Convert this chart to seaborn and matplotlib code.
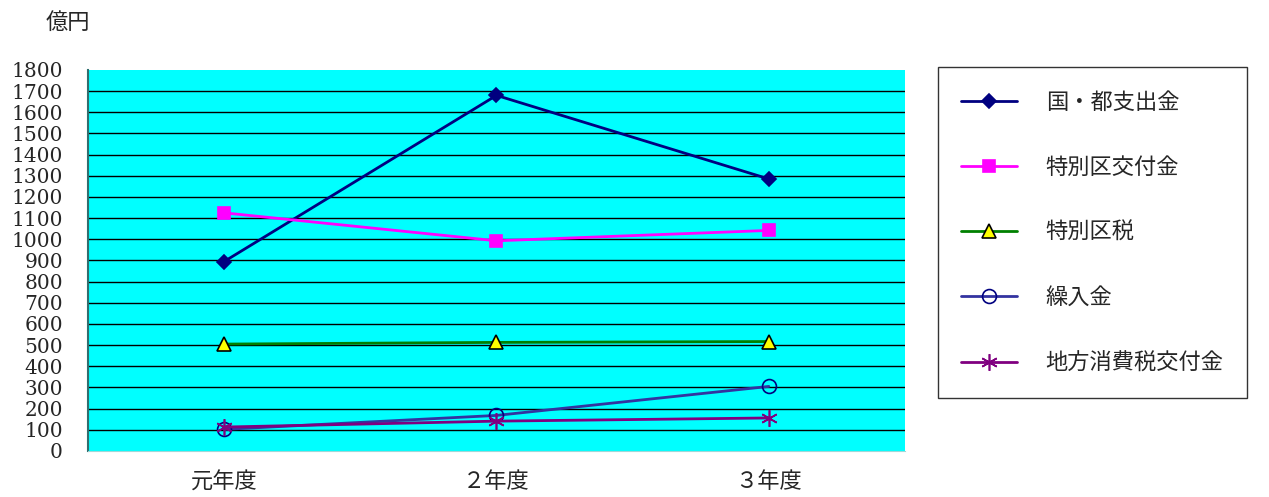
import matplotlib
matplotlib.use("Agg")
import matplotlib.pyplot as plt
import seaborn as sns
import pandas as pd

# data (億円)
years = ["元年度", "２年度", "３年度"]
kuni_to = [895, 1680, 1285]
tokubetsuku_kofukin = [1125, 993, 1042]
tokubetsuku_zei = [505, 513, 517]
kurireikin = [102, 168, 305]
chiho_shohizei = [113, 141, 156]

series_names = ["国・都支出金", "特別区交付金", "特別区税", "繰入金", "地方消費税交付金"]
series_values = [kuni_to, tokubetsuku_kofukin, tokubetsuku_zei, kurireikin, chiho_shohizei]

# style per series: line colour, marker, face, edge, size
styles = {
    "国・都支出金": dict(color="#000080", marker="D", mfc="#000080", mec="#000080", ms=7),
    "特別区交付金": dict(color="#FF00FF", marker="s", mfc="#FF00FF", mec="#FF00FF", ms=9),
    "特別区税": dict(color="#008000", marker="^", mfc="#FFFF00", mec="#000000", ms=10),
    "繰入金": dict(color="#3333A0", marker="o", mfc="none", mec="#000080", ms=10),
    "地方消費税交付金": dict(color="#800080", marker=(6, 2, 0), mfc="#800080", mec="#800080", ms=12),
}

jp = ["Noto Sans CJK JP", "DejaVu Sans"]
serif = ["DejaVu Serif"]

sns.set_style("white")
plt.rcParams["font.family"] = jp

fig = plt.figure(figsize=(12.69, 4.97), dpi=100)
ax = fig.add_axes([0.0693, 0.0926, 0.6439, 0.7666])
ax.set_facecolor("#00FFFF")

for name, vals in zip(series_names, series_values):
    df = pd.DataFrame({"year": years, "value": vals})
    st = styles[name]
    sns.lineplot(data=df, x="year", y="value", ax=ax, color=st["color"],
                 marker=st["marker"], markerfacecolor=st["mfc"],
                 markeredgecolor=st["mec"], markersize=st["ms"],
                 markeredgewidth=1.2, linewidth=2, label=name, zorder=3)

ax.set_xlim(-0.5, 2.5)
ax.set_ylim(0, 1800)
ax.set_yticks(range(0, 1801, 100))
ax.set_yticklabels([str(v) for v in range(0, 1801, 100)], family=serif, fontsize=14.5)
ax.set_xticks(range(len(years)))
ax.set_xticklabels(years, fontsize=16)
ax.tick_params(axis="y", length=0, pad=18)
ax.tick_params(axis="x", length=0, pad=14)
ax.set_xlabel("")
ax.set_ylabel("")

for v in range(100, 1800, 100):
    ax.axhline(v, color="black", linewidth=1, zorder=1)

for s in ["top", "right"]:
    ax.spines[s].set_visible(False)
ax.spines["left"].set_color("#2F6F6F")
ax.spines["left"].set_linewidth(1.5)
ax.spines["bottom"].set_color("#9FD8D8")

fig.text(0.036, 0.955, "億円", fontsize=16, ha="left", va="center")

handles, labels = ax.get_legend_handles_labels()
if ax.legend_:
    ax.legend_.remove()
leg = fig.legend(handles, labels, loc="upper left", bbox_to_anchor=(0.739, 0.865),
                 borderaxespad=0, borderpad=1.05, handlelength=2.5, handletextpad=1.3,
                 labelspacing=1.9, fontsize=16, frameon=True, fancybox=False,
                 edgecolor="black")
leg.get_frame().set_linewidth(1)

fig.savefig("out.png", dpi=100)
